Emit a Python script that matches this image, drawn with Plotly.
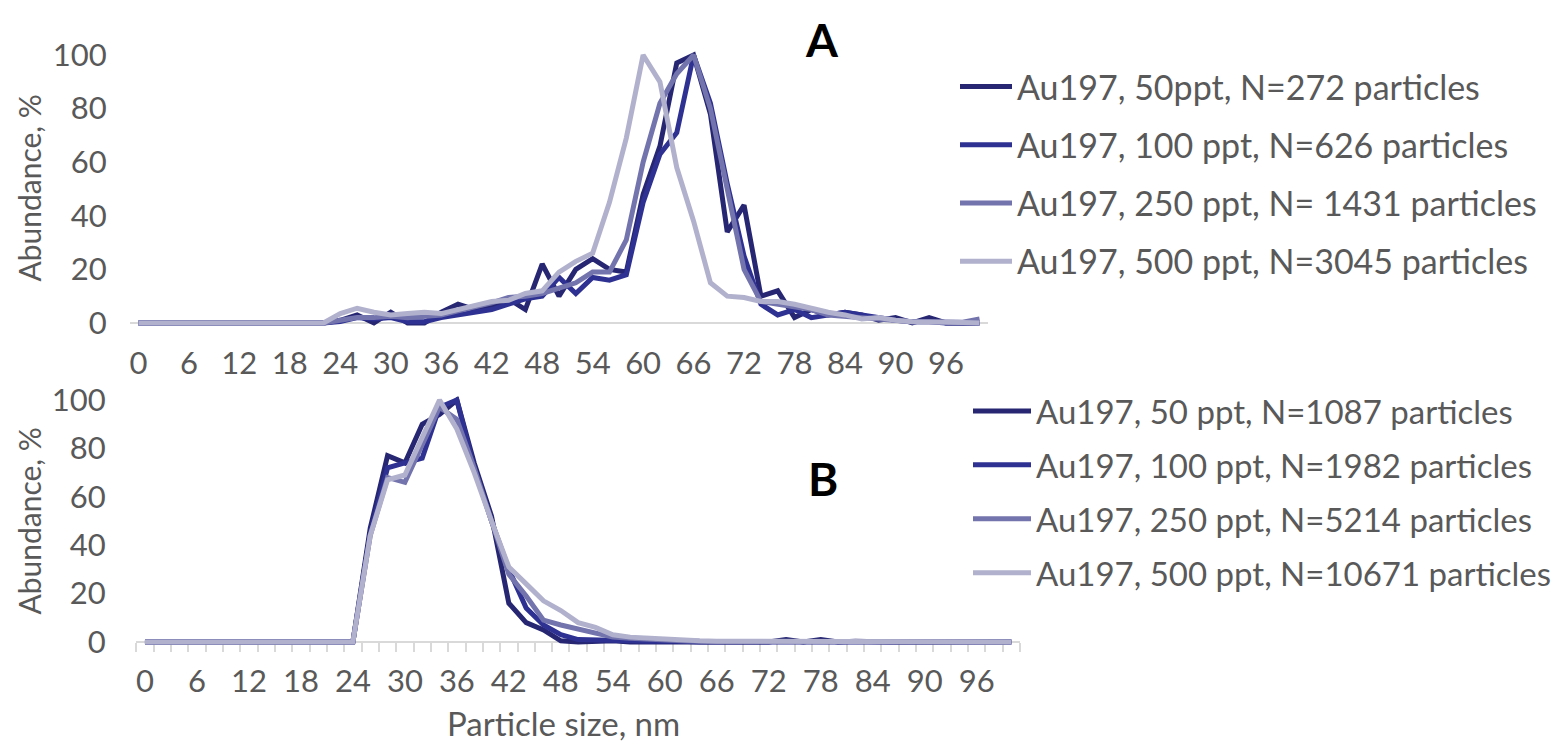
import plotly.graph_objects as go

# ---------------- data ----------------
sizes_nm = [0, 2, 4, 6, 8, 10, 12, 14, 16, 18, 20, 22, 24, 26, 28, 30, 32, 34, 36, 38, 40,
            42, 44, 46, 48, 50, 52, 54, 56, 58, 60, 62, 64, 66, 68, 70, 72, 74, 76, 78, 80,
            82, 84, 86, 88, 90, 92, 94, 96, 98, 100]
tick_labels = [0, 6, 12, 18, 24, 30, 36, 42, 48, 54, 60, 66, 72, 78, 84, 90, 96]

names_a = ["Au197, 50ppt, N=272 particles",
           "Au197, 100 ppt, N=626 particles",
           "Au197, 250 ppt, N= 1431 particles",
           "Au197, 500 ppt, N=3045 particles"]
names_b = ["Au197, 50 ppt, N=1087 particles",
           "Au197, 100 ppt, N=1982 particles",
           "Au197, 250 ppt, N=5214 particles",
           "Au197, 500 ppt, N=10671 particles"]

a_50 = [0, 0, 0, 0, 0, 0, 0, 0, 0, 0, 0, 0,
        1, 3, 0, 4, 0, 0, 4, 7, 5, 6, 9, 5, 22, 10, 20, 24, 20, 19, 48, 66, 97, 100, 78, 34,
        44, 10, 12, 2, 5, 3, 4, 3, 1, 2, 0, 2, 0, 0, 0]
a_100 = [0, 0, 0, 0, 0, 0, 0, 0, 0, 0, 0, 0,
         0.5, 2, 1.5, 2, 0.5, 0.5, 2, 3, 4, 5, 7, 9, 10, 17, 11, 17, 16, 18, 45, 63, 71, 100,
         82, 52, 25, 7, 3, 5, 2, 3, 4, 3, 2, 1, 0.5, 0.5, 0, 0, 0]
a_250 = [0, 0, 0, 0, 0, 0, 0, 0, 0, 0, 0, 0,
         1, 2, 2, 2.5, 2, 2.5, 3, 4.5, 6, 7.5, 9.5, 10, 11, 13, 15, 19, 19, 31, 60, 82, 93,
         100, 80, 50, 20, 8, 7, 6, 5, 3, 2.5, 2, 1.5, 1, 0.5, 0.5, 0.5, 0.3, 1.5]
a_500 = [0, 0, 0, 0, 0, 0, 0, 0, 0, 0, 0, 0,
         3.5, 5.5, 4, 3, 3.5, 4, 3.5, 5, 6.5, 8, 8.5, 11, 12, 19, 23, 26, 45, 69, 100, 90, 58,
         38, 15, 10, 9.5, 8, 8, 7, 5.5, 4, 3, 1.5, 2, 1, 0.5, 0.5, 0.3, 0.2, 0]

b_50 = [0, 0, 0, 0, 0, 0, 0, 0, 0, 0, 0, 0, 0,
        47, 77, 74, 90, 94, 100, 74, 52, 16, 8, 5, 0.5, 0, 0.5, 0.5, 0, 0, 0, 0.5, 0,
        0, 0, 0, 0, 1, 0, 1, 0, 0.3, 0, 0, 0, 0, 0, 0, 0, 0, 0]
b_100 = [0, 0, 0, 0, 0, 0, 0, 0, 0, 0, 0, 0, 0,
         45, 72, 74, 76, 97, 100, 72, 50, 30, 14, 7, 3, 1, 1, 0.5, 0.5, 0.3, 0.5, 0.3, 0,
         0, 0, 0.3, 0, 0.5, 0.5, 0, 0.3, 0, 0, 0, 0, 0, 0, 0, 0, 0, 0]
b_250 = [0, 0, 0, 0, 0, 0, 0, 0, 0, 0, 0, 0, 0,
         44, 68, 66, 82, 97, 92, 72, 50, 28, 19, 9, 7, 5.5, 4, 2, 1.5, 1, 0.7, 0.5, 0.3,
         0.3, 0.2, 0.2, 0.2, 0.2, 0.1, 0.1, 0.1, 0.1, 0, 0, 0, 0, 0, 0, 0, 0, 0]
b_500 = [0, 0, 0, 0, 0, 0, 0, 0, 0, 0, 0, 0, 0,
         44, 67, 69, 84, 100, 88, 70, 50, 31, 24, 17, 13, 8, 6, 3, 2, 1.5, 1, 0.5, 0.5,
         0.3, 0.3, 0.2, 0.2, 0.2, 0.1, 0.1, 0.1, 0.1, 0, 0, 0, 0, 0, 0, 0, 0, 0]

colors = ["#262673", "#2E3192", "#7373AD", "#B1B1CD"]

# ---------------- layout helpers ----------------
# the page body has an 8 px margin, so the figure is drawn 8 px in from the corner
OFF = 8
W, H = 1568 - OFF, 742 - OFF
FONT = "Lato"
GREY = "#595959"


def px_x(p):
    return (p - OFF) / W


def px_y(p):
    return 1 - (p - OFF) / H


fig = go.Figure()

for vals, name, col in zip([a_50, a_100, a_250, a_500], names_a, colors):
    fig.add_trace(go.Scatter(x=sizes_nm, y=vals, mode="lines", name=name,
                             line=dict(color=col, width=5), xaxis="x", yaxis="y",
                             legend="legend", legendgroup=name))
for vals, name, col in zip([b_50, b_100, b_250, b_500], names_b, colors):
    fig.add_trace(go.Scatter(x=sizes_nm, y=vals, mode="lines", name=name,
                             line=dict(color=col, width=5), xaxis="x2", yaxis="y2",
                             legend="legend2", legendgroup=name + "b"))

tickfont = dict(family=FONT, size=31, color=GREY)

fig.update_layout(
    width=W, height=H, autosize=False,
    margin=dict(l=0, r=0, t=0, b=0, pad=0, autoexpand=False),
    paper_bgcolor="white", plot_bgcolor="white",
    showlegend=True,
    xaxis=dict(domain=[px_x(130), px_x(988)], range=[-1, 101], anchor="free",
               position=px_y(323), showline=True, linecolor="#d9d9d9", linewidth=1.5,
               layer="below traces", showgrid=False, zeroline=False,
               tickmode="array", tickvals=tick_labels, ticks="outside", ticklen=13,
               tickcolor="rgba(0,0,0,0)", tickfont=tickfont),
    yaxis=dict(domain=[px_y(327), px_y(51)], range=[-1.5, 101.5], showgrid=False,
               zeroline=False, showline=False, tickmode="array",
               tickvals=[0, 20, 40, 60, 80, 100], ticks="outside", ticklen=16,
               tickcolor="rgba(0,0,0,0)", tickfont=tickfont),
    xaxis2=dict(domain=[px_x(136.3), px_x(1020)], range=[-1, 101], anchor="free",
                position=px_y(642), showline=True, linecolor="#d9d9d9", linewidth=1.5,
                layer="below traces", showgrid=False, zeroline=False,
                tickmode="array", tickvals=tick_labels, ticks="outside", ticklen=12,
                tickcolor="rgba(0,0,0,0)", tickfont=tickfont,
                minor=dict(tick0=-1, dtick=2, ticks="outside", ticklen=9,
                           tickcolor="#d9d9d9", tickwidth=1.5, showgrid=False)),
    yaxis2=dict(domain=[px_y(645.6), px_y(396.4)], range=[-1.5, 101.5], showgrid=False,
                zeroline=False, showline=False, tickmode="array",
                tickvals=[0, 20, 40, 60, 80, 100], ticks="outside", ticklen=17,
                tickcolor="rgba(0,0,0,0)", tickfont=tickfont),
    legend=dict(x=px_x(955), y=px_y(58), xanchor="left", yanchor="top",
                font=dict(family=FONT, size=34, color=GREY), traceorder="grouped",
                itemwidth=52, tracegroupgap=11, bgcolor="rgba(0,0,0,0)"),
    legend2=dict(x=px_x(968), y=px_y(383), xanchor="left", yanchor="top",
                 font=dict(family=FONT, size=33, color=GREY), traceorder="grouped",
                 itemwidth=58, tracegroupgap=8, bgcolor="rgba(0,0,0,0)"),
)

annos = [
    dict(text="<b>A</b>", x=px_x(822), y=px_y(39), font=dict(family=FONT, size=46, color="black")),
    dict(text="<b>B</b>", x=px_x(823), y=px_y(478), font=dict(family=FONT, size=46, color="black")),
    dict(text="Abundance, %", x=px_x(28.5), y=px_y(188), textangle=-90,
         font=dict(family=FONT, size=30, color=GREY)),
    dict(text="Abundance, %", x=px_x(28.5), y=px_y(521), textangle=-90,
         font=dict(family=FONT, size=30, color=GREY)),
    dict(text="Particle size, nm", x=px_x(563), y=px_y(723),
         font=dict(family=FONT, size=33, color=GREY)),
]
for a in annos:
    fig.add_annotation(xref="paper", yref="paper", showarrow=False,
                       xanchor="center", yanchor="middle", **a)

fig.write_html("out.html")
